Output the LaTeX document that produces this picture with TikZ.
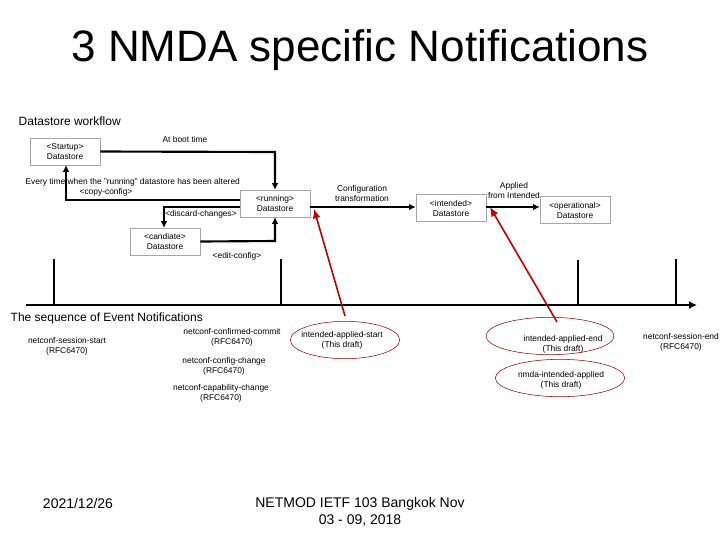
\documentclass[tikz,border=0pt]{standalone}
\usepackage{fontspec}
\setmainfont{Liberation Sans}
\usetikzlibrary{arrows.meta,shapes.geometric}
\begin{document}
\begin{tikzpicture}[x=0.75pt,y=-0.75pt,
  ds/.style={draw=gray!70,fill=white,minimum width=52.5pt,minimum height=20pt,inner sep=1pt,align=center,font=\fontsize{6.3}{7.5}\selectfont},
  sm/.style={align=center,font=\fontsize{6.3}{7.5}\selectfont,inner sep=1pt},
  ln/.style={line width=1.6pt,-{Latex[length=5pt,width=5pt]}},
  ev/.style={draw=red!60!black,ellipse,minimum width=#1,minimum height=28pt,inner sep=0pt},
  ra/.style={draw=red!75!black,line width=1.2pt,-{Latex[length=7pt,width=6pt]}},
  tk/.style={line width=2pt}]
\useasboundingbox (0,0) rectangle (720,540);
\node (title) at (360,50) {\fontsize{33}{38}\selectfont 3 NMDA specific Notifications};
\node[anchor=west,font=\fontsize{9}{10}\selectfont] (dw) at (14,121) {Datastore workflow};
\node[ds,minimum width=52.5pt] (st) at (65,151.5) {<Startup>\\Datastore};
\node[ds] (ru) at (275,203.5) {<running>\\Datastore};
\node[ds] (ca) at (165,241.5) {<candiate>\\Datastore};
\node[ds] (in) at (451,208) {<intended>\\Datastore};
\node[ds] (op) at (575,210) {<operational>\\Datastore};
\coordinate (c1) at (275,152);
\draw[ln] (st.east) -- (c1) -- (ru.north);
\coordinate (c2) at (66,200);
\draw[ln] (ru.west|-c2) -- (c2) -- (st.south-|c2);
\coordinate (c3) at (164,207);
\draw[ln] (ru.west|-c3) -- (c3) -- (ca.north-|c3);
\coordinate (c4) at (275,241);
\draw[ln] (ca.east) -- (c4) -- (ru.south);
\draw[ln] (ru.east|-0,207) -- (in.west|-0,207);
\draw[ln] (in.east|-0,207) -- (op.west|-0,207);
\node[sm] (ab) at (185,139) {At boot time};
\node[sm,anchor=west] (ev1) at (24,182) {Every time when the "running" datastore has been altered};
\node[sm] (cc) at (106,192) {<copy-config>};
\node[sm] (dc) at (201,214) {<discard-changes>};
\node[sm] (ec) at (237,256) {<edit-config>};
\node[sm] (ct) at (362,193) {Configuration\\transformation};
\node[sm] (af) at (514,190) {Applied\\from Intended};
% timeline
\coordinate (t0) at (26,305); \coordinate (t1) at (697,305);
\draw[line width=2pt,-{Latex[length=6pt,width=6pt]}] (t0) -- (t1);
\foreach \x/\y in {54/259,281/259,578/260,676/259}{\draw[tk] (\x,\y) -- (\x,305);}
\node[anchor=west,font=\fontsize{9}{10}\selectfont] (sq) at (6,318) {The sequence of Event Notifications};
\node[ev=82pt] (e1) at (345,340) {};
\node[ev=96pt] (e2) at (550,336) {};
\node[ev=97pt] (e3) at (560,378) {};
\draw[ra] (345,316) -- (314,209);
\draw[ra] (557,322) -- (490,207);
\node[sm] (n1) at (67,346) {netconf-session-start\\(RFC6470)};
\node[sm] (n2) at (232,337) {netconf-confirmed-commit\\(RFC6470)};
\node[sm] (n3) at (224,366) {netconf-config-change\\(RFC6470)};
\node[sm] (n4) at (221,393) {netconf-capability-change\\(RFC6470)};
\node[sm] (n5) at (342,340) {intended-applied-start\\(This draft)};
\node[sm] (n6) at (563,344) {intended-applied-end\\(This draft)};
\node[sm] (n7) at (681,342) {netconf-session-end\\(RFC6470)};
\node[sm] (n8) at (561,380) {nmda-intended-applied\\(This draft)};
\node[font=\fontsize{10.5}{13}\selectfont] (d) at (78,503) {2021/12/26};
\node[align=center,font=\fontsize{10.5}{13}\selectfont] (f) at (360,512) {NETMOD IETF 103 Bangkok Nov\\03 - 09, 2018};
\end{tikzpicture}
\end{document}
